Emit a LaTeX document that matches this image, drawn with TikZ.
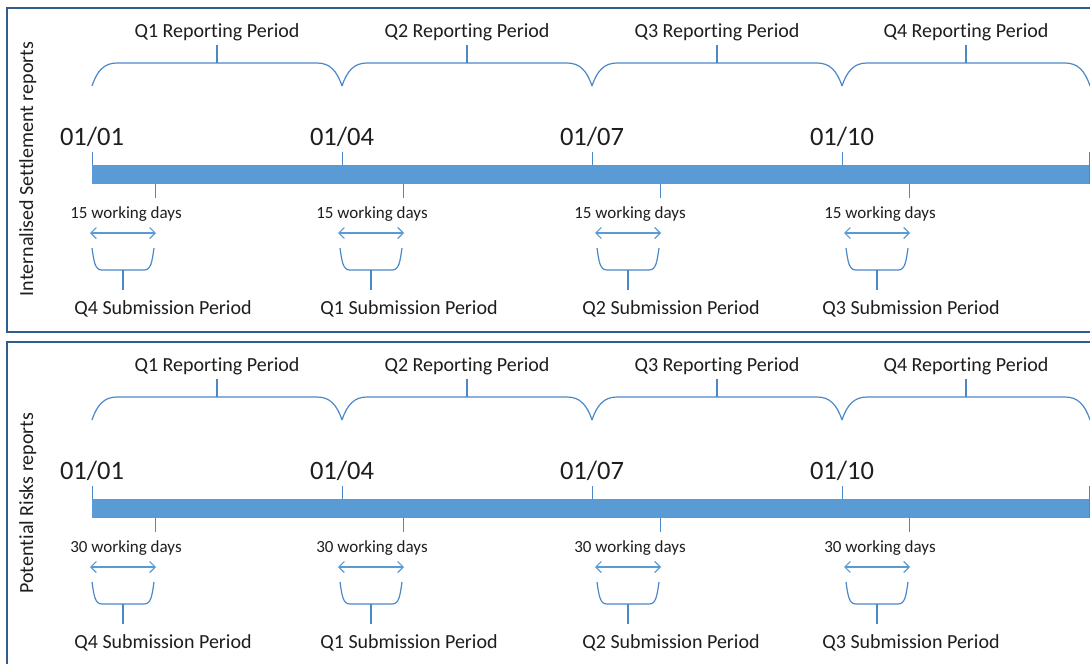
\documentclass[tikz,border=0pt]{standalone}
\usepackage{fontspec}
\setmainfont{Carlito}[Ligatures=NoCommon]
\usetikzlibrary{arrows.meta}
\definecolor{bl}{HTML}{5B9BD5}
\definecolor{brl}{HTML}{4A88C8}
\definecolor{fr}{HTML}{2F5E8E}
\definecolor{tx}{HTML}{1E1E1E}
\begin{document}
\begin{tikzpicture}[x=1pt,y=-1pt,
  frame/.style={draw=fr, line width=2pt},
  brc/.style={draw=brl, line width=1.2pt},
  tick/.style={draw=brl, line width=1pt},
  arr/.style={draw=bl, line width=1.2pt, {Straight Barb[length=5.5pt,width=11pt]}-{Straight Barb[length=5.5pt,width=11pt]}},
  rep/.style={text=tx, anchor=base, inner sep=0pt, font=\fontsize{20}{24}\selectfont},
  dat/.style={text=tx, anchor=base, inner sep=0pt, font=\fontsize{26.5}{30}\selectfont},
  wdy/.style={text=tx, anchor=base, inner sep=0pt, font=\fontsize{17}{20}\selectfont},
  side/.style={text=tx, anchor=base, inner sep=0pt, rotate=90, font=\fontsize{20}{24}\selectfont}]
\useasboundingbox (0,0) rectangle (1090,664);
\fill[white] (0,0) rectangle (1090,664);
\draw[frame] (7,8) rectangle (1100,332);
\draw[frame] (7,342) rectangle (1100,680);
\foreach \p/\dy/\lab/\nd in {0/0/Internalised Settlement reports/15, 1/334/Potential Risks reports/30} {
  \begin{scope}[shift={(0,\dy)}]
    \node[side] (side\p) at (33,169) {\lab};
    \fill[bl] (92,165) rectangle (1089,184);
    \coordinate (barend\p) at (1089,152);
    \draw[tick] (barend\p) -- (1089,184);
    \foreach \k/\xa/\xb/\c/\dt/\s/\wc/\q/\sc in {
        1/92/342/217/01\slash 01/91/126/4/163,
        2/342/592/467/01\slash 04/339/372/1/409,
        3/592/842/717/01\slash 07/596/630/2/671,
        4/842/1090/966/01\slash 10/845/880/3/911} {
      % reporting period label and brace
      \node[rep] (rep\p\k) at (\c,37) {Q\k{} Reporting Period};
      \coordinate (tip\p\k) at (\c,45);
      \draw[brc] (tip\p\k) -- (\c,63);
      \draw[brc] (\xa,86) .. controls (\xa+5,71) and (\xa+12,63) .. (\xa+25,63)
        -- (\xb-25,63) .. controls (\xb-12,63) and (\xb-5,71) .. (\xb,86);
      % date
      \node[dat] (date\p\k) at (\xa,145) {\dt};
      \coordinate (tk\p\k) at (\xa,152);
      \draw[tick] (tk\p\k) -- (\xa,165);
      % submission
      \coordinate (sub\p\k) at (\s+64,184);
      \draw[tick] (sub\p\k) -- (\s+64,198);
      \node[wdy] (wd\p\k) at (\wc,218) {\nd{} working days};
      \coordinate (al\p\k) at (\s-1,233);
      \coordinate (ar\p\k) at (\s+65,233);
      \draw[arr] (al\p\k) -- (ar\p\k);
      \draw[brc] (\s+1,248) .. controls (\s+3,262) and (\s+4,270) .. (\s+11,270)
        -- (\s+53,270) .. controls (\s+60,270) and (\s+61,262) .. (\s+63,248);
      \node[rep] (sp\p\k) at (\sc,314) {Q\q{} Submission Period};
      \draw[brc] (\s+32,270) -- (\s+32,290);
    }
  \end{scope}
}
\end{tikzpicture}
\end{document}
